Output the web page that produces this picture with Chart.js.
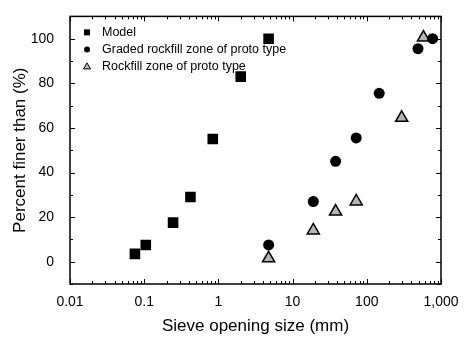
<!DOCTYPE html>
<html>
<head>
<meta charset="utf-8">
<script src="https://cdn.jsdelivr.net/npm/chart.js@4"></script>
<style>
  html, body { margin: 0; padding: 0; background: #fff; }
  #wrap { width: 465px; height: 338px; }
</style>
</head>
<body>
<div id="wrap"><canvas id="sieveChart"></canvas></div>
<script>
// Gradation data (size in mm, percent finer)
const modelSize = [0.075, 0.105, 0.245, 0.42, 0.84, 2.0, 4.75];
const modelFiner = [3.5, 7.5, 17.5, 29, 55, 83, 100];

const gradedSize = [4.75, 19, 38, 72, 147, 490, 770];
const gradedFiner = [7.5, 27, 45, 55.5, 75.5, 95.5, 100];

const rockfillSize = [4.75, 19, 38, 72, 295, 580];
const rockfillFiner = [1.5, 14, 22.5, 27, 64.5, 100.5];

const xTickValues = [0.01, 0.1, 1, 10, 100, 1000];
const xTickLabels = ["0.01", "0.1", "1", "10", "100", "1,000"];
const yTickValues = [0, 20, 40, 60, 80, 100];

const seriesNames = ["Model", "Graded rockfill zone of proto type", "Rockfill zone of proto type"];

const FONT = "'Liberation Sans', Arial, Helvetica, sans-serif";

function toPoints(xs, ys) {
    return xs.map((x, i) => ({ x: x, y: ys[i] }));
}

// inward tick marks on all four sides + frame + legend inside plot
const framePlugin = {
    id: "frame",
    afterDraw(chart) {
        const ctx = chart.ctx;
        const a = chart.chartArea;
        const xs = chart.scales.x;
        const ys = chart.scales.y;
        ctx.save();
        ctx.strokeStyle = "#000";
        ctx.lineWidth = 1.5;
        ctx.strokeRect(a.left, a.top, a.right - a.left, a.bottom - a.top);

        ctx.lineWidth = 1;
        ctx.beginPath();
        // x ticks (log: decades major, 2..9 minor)
        for (let e = -2; e <= 3; e++) {
            for (let m = 1; m <= 9; m++) {
                const v = m * Math.pow(10, e);
                if (v > 1000.0001) break;
                const px = Math.round(xs.getPixelForValue(v)) + 0.5;
                const len = m === 1 ? 5 : 3;
                ctx.moveTo(px, a.bottom);
                ctx.lineTo(px, a.bottom - len);
                ctx.moveTo(px, a.top);
                ctx.lineTo(px, a.top + len);
            }
        }
        // y ticks every 10, major every 20
        for (let v = -10; v <= 110; v += 10) {
            const py = Math.round(ys.getPixelForValue(v)) + 0.5;
            const len = v % 20 === 0 ? 5 : 3;
            ctx.moveTo(a.left, py);
            ctx.lineTo(a.left + len, py);
            ctx.moveTo(a.right, py);
            ctx.lineTo(a.right - len, py);
        }
        ctx.stroke();

        // legend
        const lx = a.left + 17;
        const tx = a.left + 32;
        const rows = [a.top + 16, a.top + 33, a.top + 50];
        ctx.font = "12.5px " + FONT;
        ctx.fillStyle = "#000";
        ctx.textBaseline = "middle";
        seriesNames.forEach((name, i) => {
            ctx.fillText(name, tx, rows[i]);
        });
        // symbols
        ctx.fillRect(lx - 3, rows[0] - 3, 6, 6);
        ctx.beginPath();
        ctx.arc(lx, rows[1], 3, 0, Math.PI * 2);
        ctx.fill();
        ctx.beginPath();
        ctx.moveTo(lx, rows[2] - 3.5);
        ctx.lineTo(lx + 3.5, rows[2] + 2.5);
        ctx.lineTo(lx - 3.5, rows[2] + 2.5);
        ctx.closePath();
        ctx.fillStyle = "#bbb";
        ctx.fill();
        ctx.lineWidth = 1;
        ctx.stroke();
        ctx.restore();
    }
};

const sieveData = {
    datasets: [{
        label: seriesNames[0],
        data: toPoints(modelSize, modelFiner),
        pointStyle: "rect",
        pointRadius: 7.5,
        backgroundColor: "#000",
        borderColor: "#000",
        borderWidth: 0,
        showLine: false
    }, {
        label: seriesNames[1],
        data: toPoints(gradedSize, gradedFiner),
        pointStyle: "circle",
        pointRadius: 5.5,
        backgroundColor: "#000",
        borderColor: "#000",
        borderWidth: 0,
        showLine: false
    }, {
        label: seriesNames[2],
        data: toPoints(rockfillSize, rockfillFiner),
        pointStyle: "triangle",
        pointRadius: 7,
        backgroundColor: "#b5b5b5",
        borderColor: "#000",
        borderWidth: 1.5,
        showLine: false
    }]
};

const sieveConfig = {
    type: "scatter",
    data: sieveData,
    options: {
        responsive: true,
        maintainAspectRatio: false,
        animation: false,
        layout: { padding: { left: 0, right: 24, top: 9, bottom: 0 } },
        plugins: {
            legend: { display: false },
            tooltip: { enabled: false }
        },
        scales: {
            x: {
                type: "logarithmic",
                min: 0.01,
                max: 1000,
                afterBuildTicks: (scale) => {
                    scale.ticks = xTickValues.map(v => ({ value: v }));
                },
                afterFit: (scale) => { scale.height = 54; },
                grid: { display: false },
                border: { display: false },
                ticks: {
                    autoSkip: false,
                    maxRotation: 0,
                    padding: 2,
                    color: "#000",
                    font: { family: FONT, size: 14 },
                    callback: (value) => {
                        const i = xTickValues.findIndex(v => Math.abs(v - value) / v < 1e-6);
                        return i >= 0 ? xTickLabels[i] : "";
                    }
                },
                title: {
                    display: true,
                    text: "Sieve opening size (mm)",
                    color: "#000",
                    font: { family: FONT, size: 17 },
                    padding: { top: 4, bottom: 1 }
                }
            },
            y: {
                min: -10,
                max: 110,
                afterBuildTicks: (scale) => {
                    scale.ticks = yTickValues.map(v => ({ value: v }));
                },
                afterFit: (scale) => { scale.width = 70; },
                grid: { display: false },
                border: { display: false },
                ticks: {
                    padding: 8,
                    color: "#000",
                    font: { family: FONT, size: 14 }
                },
                title: {
                    display: true,
                    text: "Percent finer than (%)",
                    color: "#000",
                    font: { family: FONT, size: 17 },
                    padding: { top: 10, bottom: 4 }
                }
            }
        }
    },
    plugins: [framePlugin]
};

const sieveChart = new Chart(
    document.getElementById("sieveChart"),
    sieveConfig
);
</script>
</body>
</html>
